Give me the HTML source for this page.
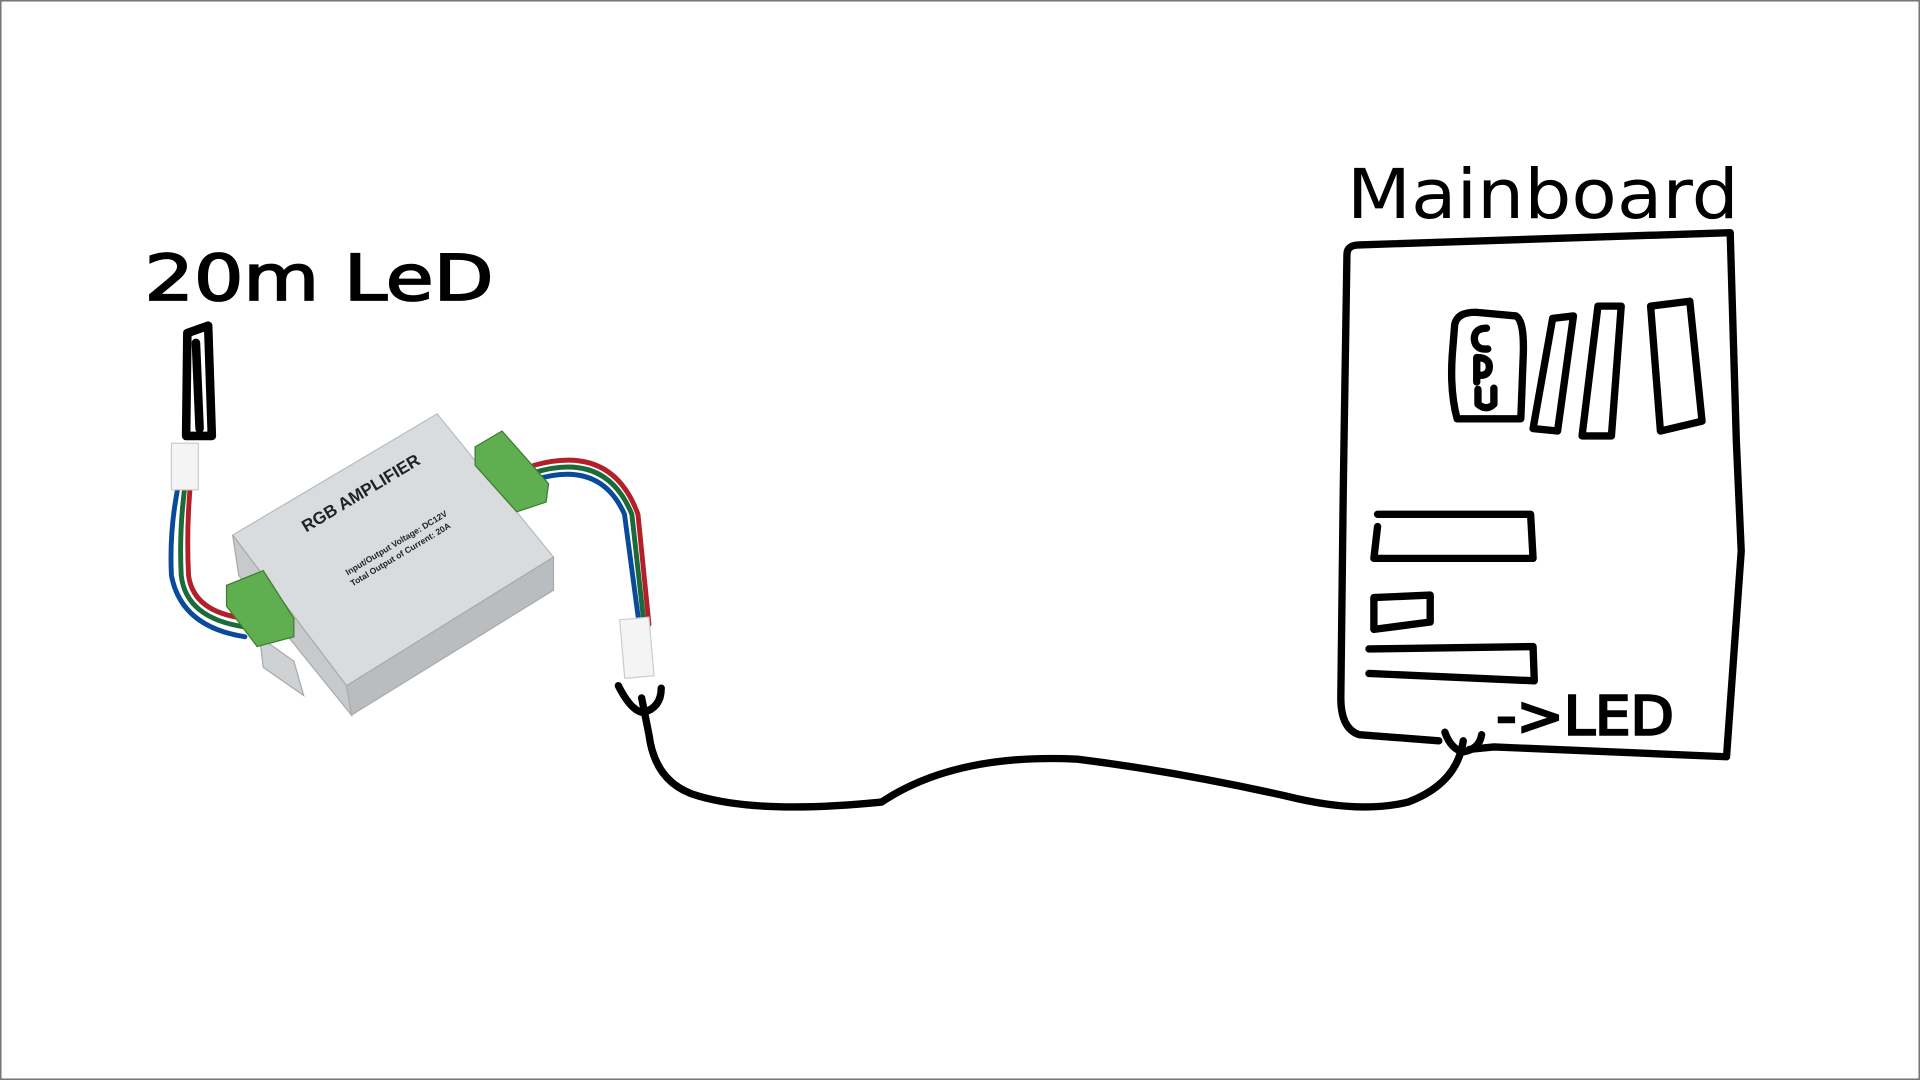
<!DOCTYPE html>
<html><head><meta charset="utf-8"><style>
html,body{margin:0;padding:0;background:#fff;width:1920px;height:1080px;overflow:hidden}
svg{display:block}
</style></head><body>
<svg width="1920" height="1080" viewBox="0 0 1568 882" xmlns="http://www.w3.org/2000/svg">
<rect x="0.5" y="0.5" width="1567" height="881" fill="#fff" stroke="#777" stroke-width="1.5"/>
<g fill="none" stroke="#000" stroke-width="6" stroke-linecap="round" stroke-linejoin="round">
<path d="M1100,208 Q1100,200 1110,200 L1413,190 L1418,360 L1422,450 L1410,618 L1220,610 L1200,612 M1175,605 L1110,600 Q1095,595 1095,570 L1097,400 L1100,208"/>
<path d="M1188,265 Q1190,255 1205,255 L1238,258 Q1245,262 1244,290 L1242,342 L1190,342 Q1184,320 1186,290 Z"/>
<path d="M1214,268 Q1204,268 1204,277 Q1205,286 1215,285 M1206,292 L1206,312 M1206,292 Q1218,292 1216,302 Q1214,308 1206,306 M1207,318 L1207,330 Q1214,336 1220,330 L1220,317"/>
<path d="M1268,260 L1285,258 L1272,352 L1252,350 Z"/>
<path d="M1305,250 L1324,250 L1316,356 L1292,356 Z"/>
<path d="M1348,250 L1380,246 L1390,344 L1356,352 Z"/>
<path d="M1125,420 L1250,420 L1252,456 L1122,456 L1125,430"/>
<path d="M1122,488 L1168,486 L1168,508 L1122,514 Z"/>
<path d="M1118,530 L1252,528 L1253,556 L1118,550"/>
<path d="M1195,605 Q1190,640 1150,655 Q1110,665 1050,650 Q960,630 880,620 Q780,615 720,655 Q620,665 570,650 Q535,640 530,600 L524,570"/>
<path d="M505,560 Q515,580 525,582 Q540,578 540,562"/>
<path d="M1180,598 Q1185,612 1195,614 Q1208,612 1210,600"/>
<path d="M153,272 L170,266 L173,356 L152,356 Z M160,280 L163,350" stroke-width="7"/>
</g>
<text x="1100" y="178" font-family="DejaVu Sans, sans-serif" font-size="56" fill="#000" textLength="320" lengthAdjust="spacingAndGlyphs">Mainboard</text>
<text x="1222" y="600" font-family="DejaVu Sans, sans-serif" font-size="44" fill="#000" stroke="#000" stroke-width="2" textLength="145" lengthAdjust="spacingAndGlyphs">-&gt;LED</text>
<text x="118" y="245" font-family="DejaVu Sans, sans-serif" font-size="52" fill="#000" stroke="#000" stroke-width="1.5" textLength="285" lengthAdjust="spacingAndGlyphs">20m LeD</text>
<g fill="none" stroke-width="4" stroke-linecap="round">
<path d="M147,390 Q138,430 140,470 Q148,512 200,520" stroke="#0a4a9a"/>
<path d="M152,390 Q146,430 148,470 Q152,505 200,512" stroke="#1a6a3a"/>
<path d="M156,390 Q152,430 154,470 Q158,500 200,505" stroke="#b3202a"/>
<path d="M436,392 Q490,375 510,420 L522,510" stroke="#0a4a9a"/>
<path d="M436,386 Q495,368 516,420 L526,510" stroke="#1a6a3a"/>
<path d="M436,380 Q500,362 521,420 L530,510" stroke="#b3202a"/>
</g>
<rect x="140" y="362" width="22" height="38" fill="#f4f4f4" stroke="#ccc"/>
<rect x="508" y="505" width="24" height="48" fill="#f4f4f4" stroke="#ccc" transform="rotate(-5 520 528)"/>
<polygon points="212,520 240,540 248,568 215,545" fill="#cfd2d4" stroke="#aaa"/>
<polygon points="190,437 357,338 452,455 283,560" fill="#d9dcde" stroke="#bbb"/>
<polygon points="283,560 452,455 452,482 287,584" fill="#b9bdc0" stroke="#aaa"/>
<polygon points="190,437 283,560 287,584 195,470" fill="#c7cacc" stroke="#aaa"/>
<polygon points="185,478 215,466 240,505 240,520 210,528 185,495" fill="#5fae4f" stroke="#3d7d34"/>
<polygon points="388,365 410,352 448,395 446,410 422,418 388,380" fill="#5fae4f" stroke="#3d7d34"/>
<g font-family="Liberation Sans, sans-serif" font-weight="bold" fill="#222">
<text x="250" y="435" font-size="14" transform="rotate(-31 250 435)">RGB AMPLIFIER</text>
<text x="284" y="470" font-size="7" transform="rotate(-31 284 470)">Input/Output Voltage:  DC12V</text>
<text x="288" y="479" font-size="7" transform="rotate(-31 288 479)">Total Output of Current: 20A</text>
</g>
</svg>
</body></html>
